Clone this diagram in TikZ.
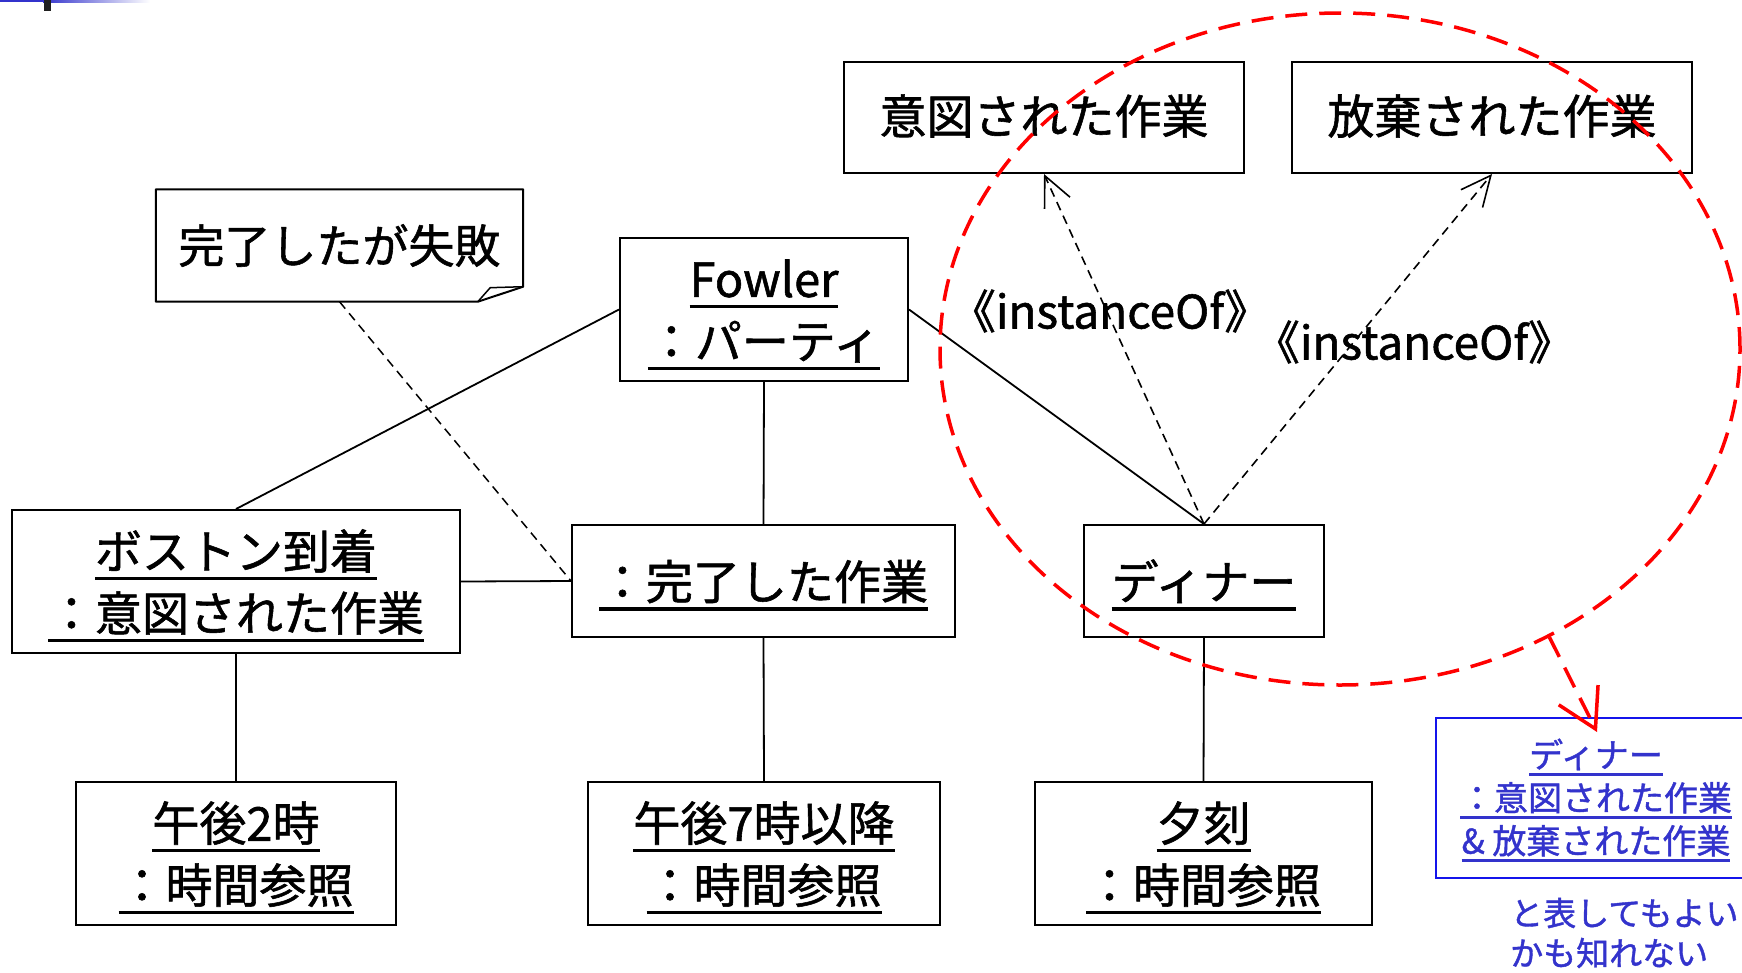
\documentclass[tikz,border=0pt]{standalone}
\usepackage{fontspec}
\setmainfont{Noto Sans CJK JP}[FakeBold=1.2]
\usetikzlibrary{arrows.meta,shapes.geometric,calc}
\newcommand\myul[1]{\setbox0\hbox{#1}\leavevmode\rlap{\rule[-0.24em]{\wd0}{0.075em}}\box0}
\newcommand\lowr[2][-6pt]{\raisebox{#1}[\height][\depth]{\begin{tabular}{@{}c@{}}#2\end{tabular}}}
\definecolor{ublue}{RGB}{51,51,204}
\definecolor{bblue}{RGB}{20,20,235}
\begin{document}
\begin{tikzpicture}[x=1pt,y=-1pt,
  obj/.style={draw,line width=2pt,inner sep=0pt,align=center,font=\fontsize{47}{62}\selectfont},
  link/.style={line width=1.8pt},
  notelink/.style={line width=1.5pt,dash pattern=on 9pt off 6pt},
  dep/.style={line width=1.6pt,dash pattern=on 9pt off 6pt,-{Straight Barb[length=30pt,width=28pt]}},
  redline/.style={draw=red,line width=3.5pt,dash pattern=on 22pt off 12pt},
  lbl/.style={inner sep=0pt,font=\fontsize{46}{50}\selectfont}]
\clip (0,0) rectangle (1742,972);
\fill[white] (0,0) rectangle (1742,972);
% top-left decoration
\fill[ublue] (0,0) rectangle (43,2);
\shade[left color=ublue,right color=white] (43,0) rectangle (150,2);
\fill[black!88] (44,0) rectangle (51,11);
% class boxes
\node[obj,minimum width=400pt,minimum height=111pt] (intended) at (1044,117.5) {\lowr[-4pt]{意図された作業}};
\node[obj,minimum width=400pt,minimum height=111pt] (abandoned) at (1492,117.5) {\lowr[-4pt]{放棄された作業}};
% note
\node[inner sep=0pt,minimum width=367pt,minimum height=112pt,font=\fontsize{46}{60}\selectfont] (note) at (339.5,245.5) {完了したが失敗};
\draw[line width=2pt,line join=round] (note.north west) -- (note.north east) -- ($(note.south east)+(0,-15)$) -- ($(note.south west)+(322,0)$) -- (note.south west) -- cycle;
\draw[line width=1.5pt,line join=round] ($(note.south west)+(322,0)$) -- ($(note.south east)+(-33,-14)$) -- ($(note.south east)+(0,-15)$);
% objects
\node[obj,minimum width=288pt,minimum height=143pt] (fowler) at (764,309.5) {\lowr{\myul{Fowler}\\\myul{：パーティ}}};
\node[obj,minimum width=448pt,minimum height=143pt] (boston) at (236,581.5) {\lowr{\myul{ボストン到着}\\\myul{：意図された作業}}};
\node[obj,minimum width=383pt,minimum height=112pt] (done) at (763.5,581) {\lowr{\myul{：完了した作業}}};
\node[obj,minimum width=240pt,minimum height=112pt] (dinner) at (1204,581) {\lowr{\myul{ディナー}}};
\node[obj,minimum width=320pt,minimum height=143pt] (t2) at (236,853.5) {\lowr{\myul{午後2時}\\\myul{：時間参照}}};
\node[obj,minimum width=352pt,minimum height=143pt] (t7) at (764,853.5) {\lowr{\myul{午後7時以降}\\\myul{：時間参照}}};
\node[obj,minimum width=337pt,minimum height=143pt] (eve) at (1203.5,853.5) {\lowr{\myul{夕刻}\\\myul{：時間参照}}};
% links
\draw[link] (fowler.west) -- (boston.north);
\draw[link] (fowler.east) -- (dinner.north);
\draw[link] (fowler.south) -- (done.north);
\draw[link] (boston.east) -- (done.west);
\draw[link] (boston.south) -- (t2.north);
\draw[link] (done.south) -- (t7.north);
\draw[link] (dinner.south) -- (eve.north);
\draw[notelink] (note.south) -- (done.west);
% instanceOf
\draw[dep] (dinner.north) -- (intended.south);
\draw[dep] (dinner.north) -- (abandoned.south);
\node[lbl] (io1) at (1110,311) {\kern-0.45em《instanceOf》\kern-0.45em};
\node[lbl] (io2) at (1414,342) {\kern-0.45em《instanceOf》\kern-0.45em};
% alternative notation
\node[draw=bblue,line width=2pt,minimum width=320pt,minimum height=160pt,inner sep=0pt,align=center,text=ublue,font=\fontsize{34}{43}\selectfont] (alt) at (1596,798) {\lowr[-4pt]{\myul{ディナー}\\\myul{：意図された作業}\\\myul{\& 放棄された作業}}};
\node[anchor=west,align=left,inner sep=0pt,text=ublue,font=\fontsize{33}{40}\selectfont] (remark) at (1510,933) {と表してもよい\\かも知れない};
% red ellipse and arrow
\node[ellipse,redline,minimum width=800pt,minimum height=672pt,inner sep=0pt] (circ) at (1340,349) {};
\coordinate (tip) at ($(alt.north)+(1,15)$);
\draw[redline,-{Straight Barb[length=38pt,width=44pt]}] (circ.-54.4) -- (tip);
\end{tikzpicture}
\end{document}
